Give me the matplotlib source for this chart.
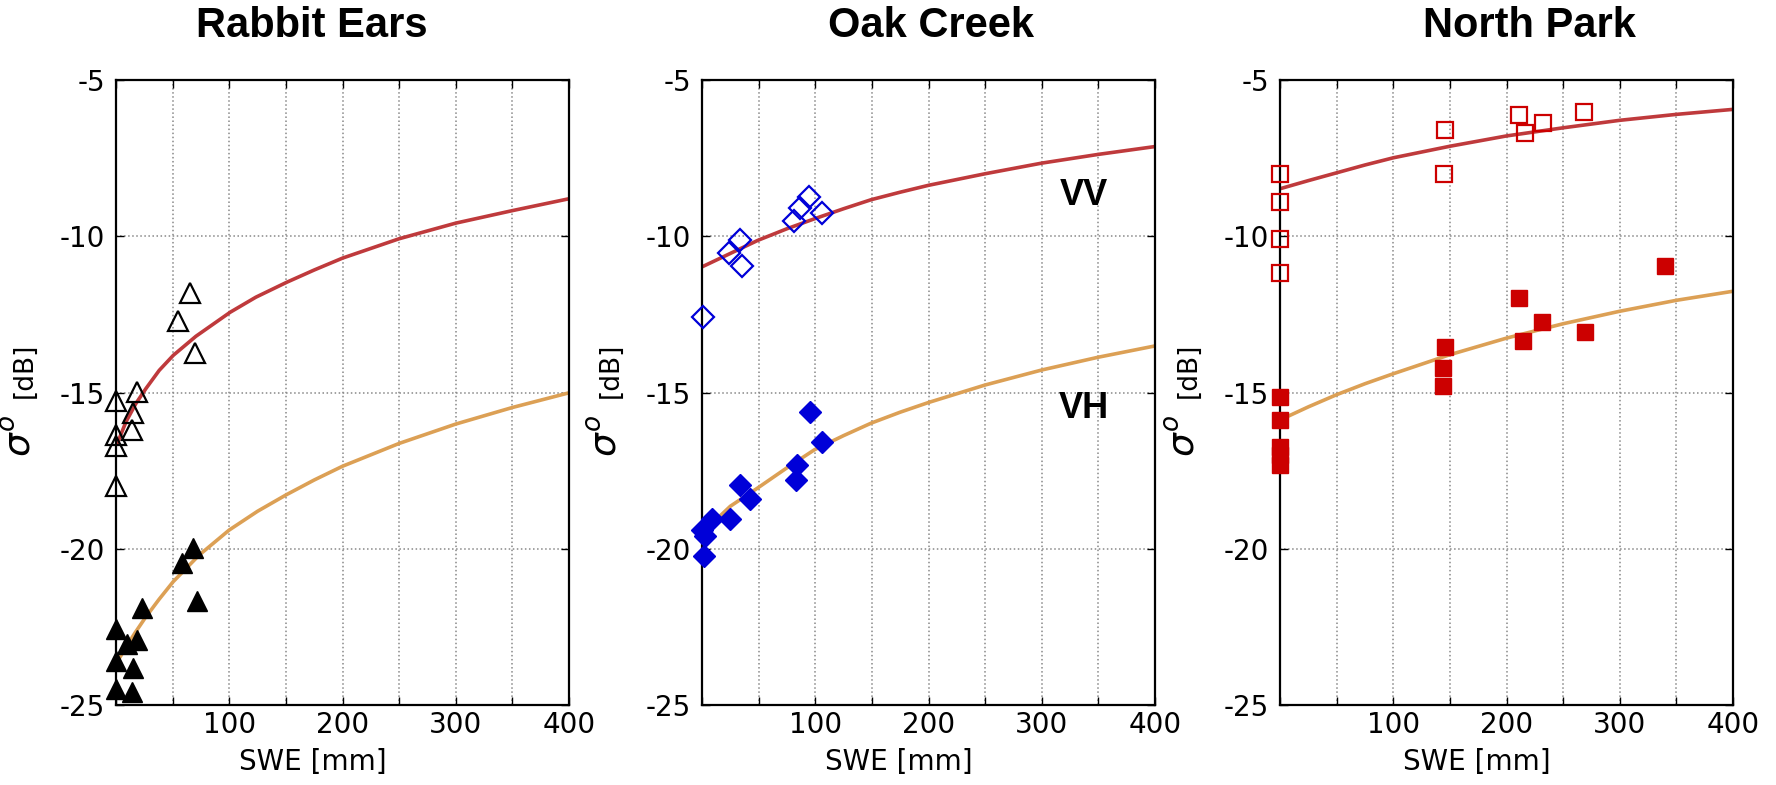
import matplotlib
matplotlib.use("Agg")
import matplotlib.pyplot as plt

plt.rcParams['axes.unicode_minus'] = False

# site names
sites = ["Rabbit Ears", "Oak Creek", "North Park"]

# Rabbit Ears - measured points (SWE mm, sigma0 dB)
re_vv_swe = [0, 0, 0, 0, 13.8, 15.3, 18.3, 54.7, 65.5, 70]
re_vv_db = [-15.28, -16.35, -16.72, -18.0, -16.21, -15.65, -14.98, -12.71, -11.8, -13.75]
re_vh_swe = [0, 0, 0, 9.4, 13.8, 15.3, 18.3, 22.7, 58, 68.2, 71.2]
re_vh_db = [-22.56, -23.58, -24.49, -23.05, -24.57, -23.81, -22.92, -21.89, -20.46, -19.98, -21.68]

# Oak Creek - measured points
oc_vv_swe = [0.5, 23.5, 33.8, 35.3, 81.5, 86.7, 94.1, 105.9]
oc_vv_db = [-12.58, -10.54, -10.12, -10.95, -9.5, -9.1, -8.73, -9.26]
oc_vh_swe = [0, 1.4, 3, 8.8, 25, 33.8, 42.6, 83.3, 83.8, 95.6, 105.9]
oc_vh_db = [-19.41, -20.22, -19.6, -19.04, -19.04, -17.97, -18.4, -17.81, -17.33, -15.61, -16.58]

# North Park - measured points
np_vv_swe = [0, 0, 0, 0, 144.5, 145.9, 210.6, 216.6, 232.4, 268.2]
np_vv_db = [-8.01, -8.9, -10.08, -11.19, -8.01, -6.59, -6.11, -6.7, -6.38, -6.01]
np_vh_swe = [0, 0, 0, 0, 0, 143.5, 144.2, 145.9, 210.6, 214.6, 231.4, 269.2, 339.6]
np_vh_db = [-15.15, -15.89, -16.73, -17.0, -17.32, -14.22, -14.79, -13.53, -11.96, -13.34, -12.75, -13.07, -10.96]

# fitted curves
re_fit_swe = [1.5, 8.8, 17.6, 26.5, 38.2, 50.6, 70.6, 100.9, 123.5, 150.9, 175, 200, 250, 300, 350, 400]
re_fit_vv = [-16.6, -15.94, -15.35, -14.87, -14.29, -13.81, -13.2, -12.43, -11.95, -11.47, -11.08,
             -10.7, -10.08, -9.58, -9.18, -8.8]
re_fit_swe2 = [3, 10, 17, 26, 38, 50.6, 73.5, 100, 125, 150, 175, 200, 250, 300, 350, 400]
re_fit_vh = [-23.5, -23.08, -22.68, -22.2, -21.62, -21.05, -20.2, -19.4, -18.8, -18.28, -17.8,
             -17.36, -16.63, -16.01, -15.48, -15.01]

oc_fit_swe = [0, 25, 49.4, 75, 99.4, 125, 149.4, 175, 200, 250, 300, 350, 400]
oc_fit_vv = [-10.98, -10.55, -10.13, -9.76, -9.44, -9.12, -8.83, -8.59, -8.37, -8.0, -7.66, -7.38, -7.13]
oc_fit_vh = [-19.5, -18.64, -18.05, -17.41, -16.83, -16.38, -15.98, -15.63, -15.32, -14.76, -14.28,
             -13.87, -13.51]

np_fit_swe = [0, 25, 50, 75, 100, 150, 200, 250, 300, 350, 400]
np_fit_vv = [-8.48, -8.22, -7.97, -7.72, -7.49, -7.12, -6.79, -6.53, -6.29, -6.1, -5.94]
np_fit_vh = [-15.88, -15.46, -15.07, -14.72, -14.4, -13.79, -13.26, -12.8, -12.4, -12.05, -11.76]

vv_line = "#bf3a3c"
vh_line = "#dca055"

fig = plt.figure(figsize=(17.76, 7.85), dpi=100)
lefts = [116 / 1776, 702 / 1776, 1280 / 1776]
title_x = [312 / 1776, 931 / 1776, 1529 / 1776]
axes = [fig.add_axes([l, 1 - 705 / 785, 453 / 1776, 625 / 785]) for l in lefts]

panels = [
    (re_vv_swe, re_vv_db, re_vh_swe, re_vh_db, re_fit_swe, re_fit_vv, re_fit_swe2, re_fit_vh, '^', 'black', 15),
    (oc_vv_swe, oc_vv_db, oc_vh_swe, oc_vh_db, oc_fit_swe, oc_fit_vv, oc_fit_swe, oc_fit_vh, 'D', '#0000d8', 11.5),
    (np_vv_swe, np_vv_db, np_vh_swe, np_vh_db, np_fit_swe, np_fit_vv, np_fit_swe, np_fit_vh, 's', '#cc0000', 12),
]

for i, ax in enumerate(axes):
    vvx, vvy, vhx, vhy, fx1, fy1, fx2, fy2, mk, col, ms = panels[i]
    ax.plot(fx1, fy1, color=vv_line, lw=2.6, zorder=2)
    ax.plot(fx2, fy2, color=vh_line, lw=2.6, zorder=2)
    ax.plot(vvx, vvy, ls='none', marker=mk, ms=ms, mfc='none', mec=col, mew=1.6,
            clip_on=False, zorder=3)
    ax.plot(vhx, vhy, ls='none', marker=mk, ms=ms, mfc=col, mec=col, mew=1.0,
            clip_on=False, zorder=3)

    ax.set_xlim(0, 400)
    ax.set_ylim(-25, -5)
    ax.set_xticks(range(0, 401, 50))
    ax.set_xticklabels(['' if v % 100 or v == 0 else str(v) for v in range(0, 401, 50)])
    ax.set_yticks([-25, -20, -15, -10, -5])
    ax.tick_params(direction='in', length=6, width=1, top=True, right=True, labelsize=20)
    ax.tick_params(axis='x', pad=4)
    ax.tick_params(axis='y', pad=8)
    ax.grid(True, ls=':', color='#888888', lw=1.1)
    for s in ax.spines.values():
        s.set_linewidth(1.6)

    ax.set_xlabel('SWE [mm]', fontsize=20)
    ax.xaxis.set_label_coords(0.435, -0.068)
    ax.text(-0.172, 0.43, r'$\sigma^o$', rotation=90, fontsize=27,
            ha='right', va='center', transform=ax.transAxes)
    ax.text(-0.172, 0.536, '[dB]', rotation=90, fontsize=19,
            ha='right', va='center', transform=ax.transAxes)

    fig.text(title_x[i], 1 - 26 / 785, sites[i], fontsize=30, fontweight='bold',
             family='Liberation Sans', ha='center', va='center')

axes[1].text(337, -8.7, 'VV', fontsize=26, fontweight='bold', family='Liberation Sans',
             ha='center', va='center')
axes[1].text(337, -15.5, 'VH', fontsize=26, fontweight='bold', family='Liberation Sans',
             ha='center', va='center')

fig.savefig('out.png', dpi=100)
